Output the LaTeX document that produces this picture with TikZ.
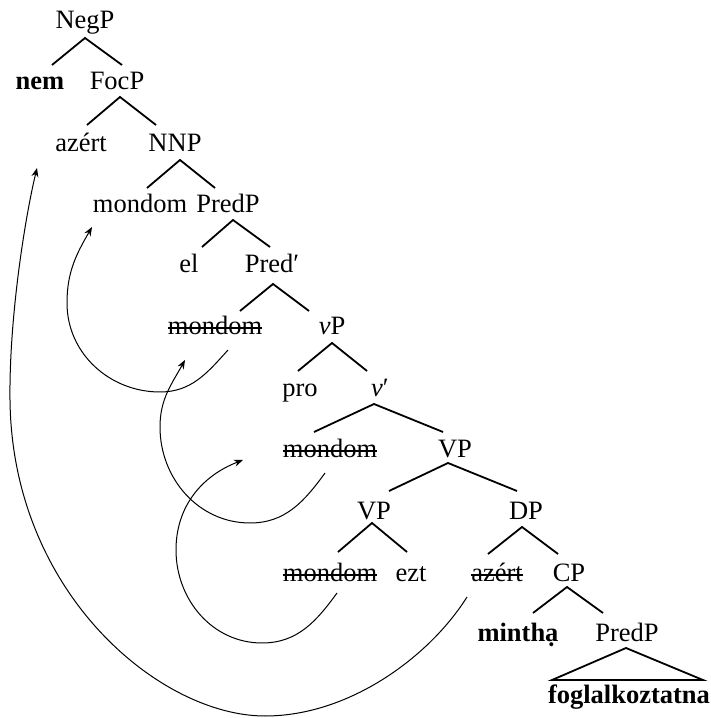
\documentclass[tikz,border=0pt]{standalone}
\usepackage{fontspec}
\setmainfont{Liberation Serif}
\newcommand\strk[1]{\begingroup\setbox0\hbox{#1}\rlap{\rule[0.24em]{\wd0}{1.3pt}}\box0\endgroup}
\usetikzlibrary{calc,arrows.meta}
\begin{document}
\begin{tikzpicture}[x=1pt,y=1pt,
  lab/.style={anchor=base,inner sep=0pt,font=\fontsize{26.5}{30}\selectfont},
  br/.style={line width=1.8pt},
  mv/.style={line width=1pt,-{Stealth[length=9pt,width=7pt,inset=3pt]}}]
\useasboundingbox (0,0) rectangle (710,718);
% nodes
\node[lab] (negp) at (85,689) {NegP};
\node[lab] (nem) at (40,628) {\textbf{nem}};
\node[lab] (focp) at (117,628) {FocP};
\node[lab] (azert) at (81,566) {azért};
\node[lab] (nnp) at (175,566) {NNP};
\node[lab] (mondomA) at (140,505) {mondom};
\node[lab] (predp) at (228,505) {PredP};
\node[lab] (el) at (189,445) {el};
\node[lab] (predbar) at (272,445) {Pred′};
\node[lab] (mondomB) at (215,383) {\strk{mondom}};
\node[lab] (vp) at (332,383) {\textit{v}P};
\node[lab] (pro) at (300,321) {pro};
\node[lab] (vbar) at (380,321) {\textit{v}′};
\node[lab] (mondomC) at (330,260) {\strk{mondom}};
\node[lab] (VPa) at (455,260) {VP};
\node[lab] (VPb) at (374,198) {VP};
\node[lab] (dp) at (526,198) {DP};
\node[lab] (mondomD) at (330,136) {\strk{mondom}};
\node[lab] (ezt) at (411,136) {ezt};
\node[lab] (azertB) at (497,136) {\strk{azért}};
\node[lab] (cp) at (569,136) {CP};
\node[lab] (mintha) at (518,76) {\textbf{minthạ}};
\node[lab] (predpB) at (627,76) {PredP};
\node[lab] (fogl) at (629,15) {\textbf{foglalkoztatna}};
% branches
\draw[br] ($(nem.base)+(12,25)$) -- ($(negp.base)+(0,-9)$) -- ($(focp.base)+(5,25)$);
\draw[br] ($(azert.base)+(6,27)$) -- ($(focp.base)+(3,-7)$) -- ($(nnp.base)+(-19,27)$);
\draw[br] ($(mondomA.base)+(7,25)$) -- ($(nnp.base)+(5,-8)$) -- ($(predp.base)+(-13,25)$);
\draw[br] ($(el.base)+(13,26)$) -- ($(predp.base)+(5,-7)$) -- ($(predbar.base)+(-2,26)$);
\draw[br] ($(mondomB.base)+(25,24)$) -- ($(predbar.base)+(1,-11)$) -- ($(vp.base)+(-23,24)$);
\draw[br] ($(pro.base)+(-2,26)$) -- ($(vp.base)+(0,-8)$) -- ($(vbar.base)+(-13,26)$);
\draw[br] ($(mondomC.base)+(-16,26)$) -- ($(vbar.base)+(-6,-7)$) -- ($(VPa.base)+(-12,26)$);
\draw[br] ($(VPb.base)+(15,29)$) -- ($(VPa.base)+(-7,-5)$) -- ($(dp.base)+(-9,29)$);
\draw[br] ($(mondomD.base)+(8,30)$) -- ($(VPb.base)+(-2,-3)$) -- ($(ezt.base)+(-4,30)$);
\draw[br] ($(azertB.base)+(-9,28)$) -- ($(dp.base)+(-4,-7)$) -- ($(cp.base)+(-11,28)$);
\draw[br] ($(mintha.base)+(15,29)$) -- ($(cp.base)+(-2,-5)$) -- ($(predpB.base)+(-24,29)$);
\draw[br] ($(fogl.base)+(-77,23)$) -- ($(predpB.base)+(-1,-6)$) -- ($(fogl.base)+(74,23)$) -- cycle;
% movement arrows
\coordinate (b1) at (265,2);
\coordinate (l1) at (10,318);
\draw[mv] ($(azertB.base)+(-30,-15)$) .. controls (430,62) and (350,2) .. (b1)
  .. controls (160,2) and (12,125) .. (l1)
  .. controls (9,400) and (25,500) .. ($(azert.base)+(-44,-16)$);
\draw[mv] ($(mondomB.base)+(13,-15)$) to[out=228,in=0] (160,326) to[out=180,in=-90] (67,415) to[out=90,in=-120] ($(mondomA.base)+(-48,-14)$);
\draw[mv] ($(mondomC.base)+(-5,-15)$) to[out=234,in=0] (250,195) to[out=180,in=-90] (160,291) to[out=90,in=-119] ($(mondomB.base)+(-30,-25)$);
\draw[mv] ($(mondomD.base)+(7,-11)$) to[out=234,in=0] (262,75) to[out=180,in=-90] (176,168) to[out=90,in=-159] ($(mondomC.base)+(-87,-2)$);
\end{tikzpicture}
\end{document}
